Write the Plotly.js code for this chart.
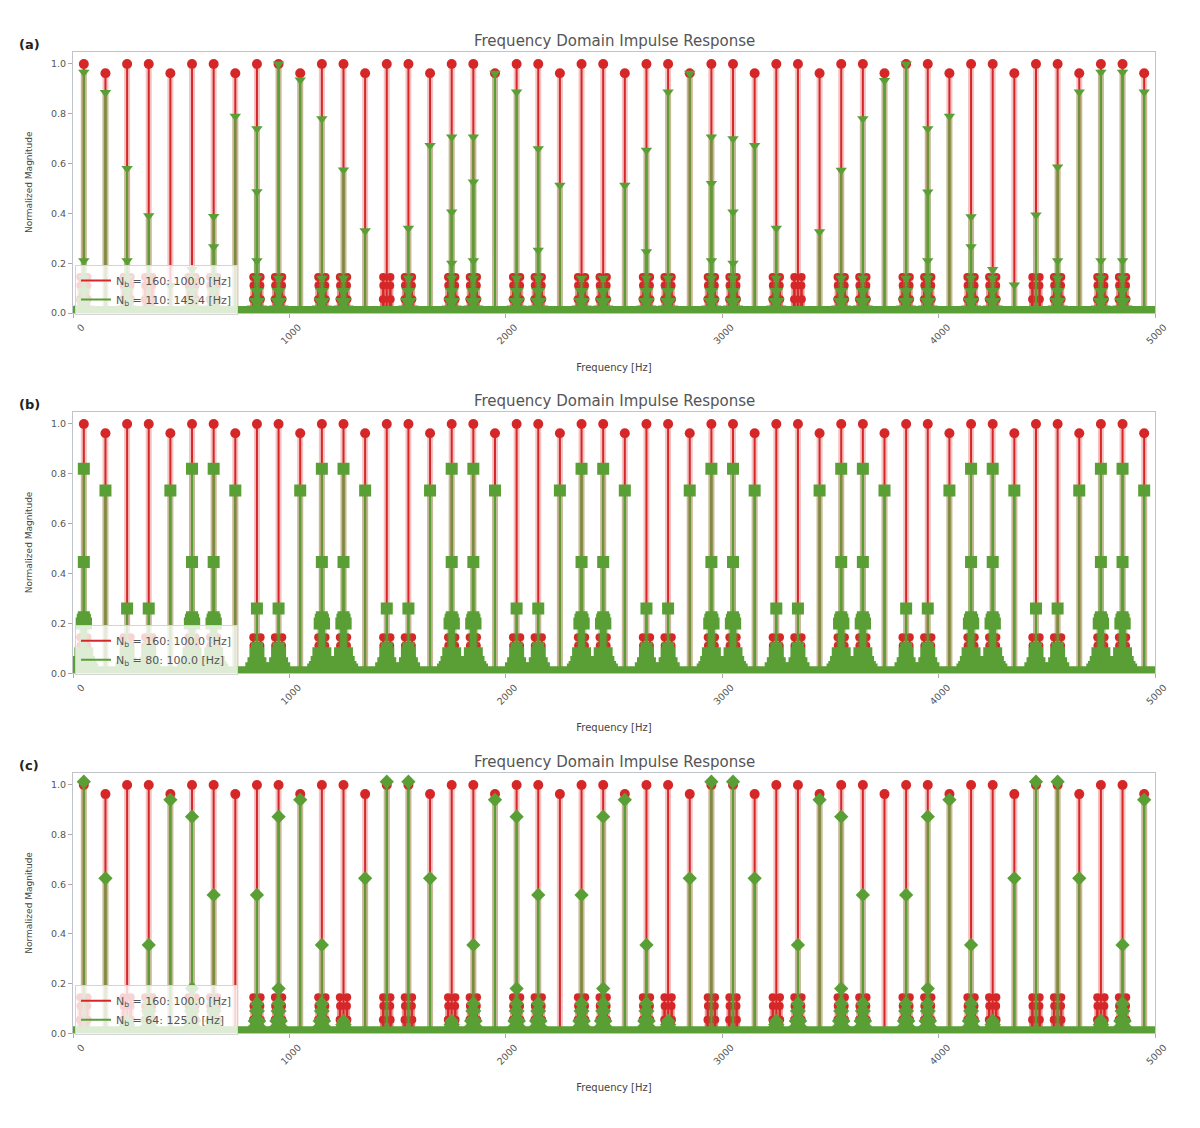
<!DOCTYPE html>
<html><head><meta charset="utf-8">
<script src="https://cdn.plot.ly/plotly-3.0.1.min.js"></script>
<style>body{margin:0;background:#fff}</style>
</head><body><div id="chart" style="width:1200px;height:1128px"></div>
<script>
// ---------------- data ----------------
const peakFreqs = [50,150,250,350,450,550,650,750,850,950,1050,1150,1250,1350,1450,1550,1650,1750,1850,1950,2050,2150,2250,2350,2450,2550,2650,2750,2850,2950,3050,3150,3250,3350,3450,3550,3650,3750,3850,3950,4050,4150,4250,4350,4450,4550,4650,4750,4850,4950];
const redPeaks = [1,0.963,1,1,0.963,1,1,0.963,1,1,0.963,1,1,0.963,1,1,0.963,1,1,0.963,1,1,0.963,1,1,0.963,1,1,0.963,1,1,0.963,1,1,0.963,1,1,0.963,1,1,0.963,1,1,0.963,1,1,0.963,1,1,0.963];
const redSideOffsets = [-18,-17,-16,16,17,18];
const redSideValues = [0.055,0.145,0.11,0.11,0.145,0.055];

// (a) N_b = 110
const greenAFreqs = [50,50,150,250,250,350,450,550,650,650,750,850,850,850,950,1050,1150,1250,1350,1550,1650,1750,1750,1750,1850,1850,1850,1950,2050,2150,2150,2250,2550,2650,2650,2750,2850,2950,2950,2950,3050,3050,3050,3150,3250,3450,3550,3650,3750,3850,3950,3950,3950,4050,4150,4150,4250,4350,4450,4550,4550,4650,4750,4750,4850,4850,4950];
const greenAValues = [0.967,0.21,0.885,0.58,0.21,0.39,0.11,0.175,0.387,0.266,0.79,0.74,0.487,0.21,1.0,0.936,0.78,0.574,0.33,0.34,0.673,0.707,0.406,0.2,0.707,0.526,0.21,0.963,0.887,0.66,0.252,0.513,0.513,0.653,0.246,0.887,0.963,0.707,0.52,0.21,0.70,0.406,0.2,0.673,0.34,0.326,0.573,0.78,0.934,1.0,0.74,0.486,0.21,0.79,0.386,0.266,0.175,0.112,0.393,0.586,0.21,0.887,0.967,0.21,0.967,0.21,0.887];
const humpACenters = [50,250,550,650,850,950,1150,1250,1550,1750,1850,2050,2150,2350,2450,2650,2750,2950,3050,3250,3550,3650,3850,3950,4150,4250,4550,4750,4850];
const humpAOffsets = [-20,-12,-6,0,6,12,20];
const humpAValues = [0.02,0.05,0.09,0.14,0.09,0.05,0.02];

// (b) N_b = 80
const greenBFreqs = [50,50,50,150,250,350,450,550,550,550,650,650,650,750,850,950,1050,1150,1150,1150,1250,1250,1250,1350,1450,1550,1650,1750,1750,1750,1850,1850,1850,1950,2050,2150,2250,2350,2350,2350,2450,2450,2450,2550,2650,2750,2850,2950,2950,2950,3050,3050,3050,3150,3250,3350,3450,3550,3550,3550,3650,3650,3650,3750,3850,3950,4050,4150,4150,4150,4250,4250,4250,4350,4450,4550,4650,4750,4750,4750,4850,4850,4850,4950];
const greenBValues = [0.82,0.446,0.216,0.733,0.26,0.26,0.733,0.82,0.446,0.216,0.82,0.446,0.216,0.733,0.26,0.26,0.733,0.82,0.446,0.216,0.82,0.446,0.216,0.733,0.26,0.26,0.733,0.82,0.446,0.216,0.82,0.446,0.216,0.733,0.26,0.26,0.733,0.82,0.446,0.216,0.82,0.446,0.216,0.733,0.26,0.26,0.733,0.82,0.446,0.216,0.82,0.446,0.216,0.733,0.26,0.26,0.733,0.82,0.446,0.216,0.82,0.446,0.216,0.733,0.26,0.26,0.733,0.82,0.446,0.216,0.82,0.446,0.216,0.733,0.26,0.26,0.733,0.82,0.446,0.216,0.82,0.446,0.216,0.733];
const humpBBigCenters = [50,550,650,1150,1250,1750,1850,2350,2450,2950,3050,3550,3650,4150,4250,4750,4850];
const humpBBigOffsets = [-40,-32,-24,-16,-10,-5,0,5,10,16,24,32,40];
const humpBBigValues = [0.015,0.025,0.045,0.08,0.2,0.215,0.225,0.215,0.2,0.08,0.045,0.025,0.015];
const humpBSmallCenters = [250,350,850,950,1450,1550,2050,2150,2650,2750,3250,3350,3850,3950,4450,4550];
const humpBSmallOffsets = [-26,-16,-7,0,7,16,26];
const humpBSmallValues = [0.02,0.04,0.08,0.1,0.08,0.04,0.02];

// (c) N_b = 64
const greenCFreqs = [50,150,350,450,550,550,650,850,950,950,1050,1150,1350,1450,1550,1650,1850,1950,2050,2050,2150,2350,2450,2450,2550,2650,2850,2950,3050,3150,3350,3450,3550,3550,3650,3850,3950,3950,4050,4150,4350,4450,4550,4650,4850,4950];
const greenCValues = [1.013,0.624,0.356,0.94,0.872,0.18,0.557,0.557,0.872,0.18,0.94,0.356,0.624,1.013,1.013,0.624,0.356,0.94,0.872,0.18,0.557,0.557,0.872,0.18,0.94,0.356,0.624,1.013,1.013,0.624,0.356,0.94,0.872,0.18,0.557,0.557,0.872,0.18,0.94,0.356,0.624,1.013,1.013,0.624,0.356,0.94];
const humpCCenters = [350,550,650,850,950,1150,1850,2050,2150,2350,2450,2650,3350,3550,3650,3850,3950,4150,4850];
const humpCOffsets = [-18,-10,-4,0,4,10,18];
const humpCValues = [0.02,0.05,0.09,0.12,0.09,0.05,0.02];
const humpCSmallCenters = [250,1250,1750,2750,3250,4250,4750];
const humpCSmallOffsets = [-12,-5,0,5,12];
const humpCSmallValues = [0.02,0.035,0.05,0.035,0.02];

const legendRed = 'N<sub>b</sub> = 160: 100.0 [Hz]';
const legendGreen = ['N<sub>b</sub> = 110: 145.4 [Hz]','N<sub>b</sub> = 80: 100.0 [Hz]','N<sub>b</sub> = 64: 125.0 [Hz]'];
const panelLabels = ['(a)','(b)','(c)'];
const titleText = 'Frequency Domain Impulse Response';
const xTicks = [0,1000,2000,3000,4000,5000];
const yTicks = [0,0.2,0.4,0.6,0.8,1.0];
const floorLevel = 0.014;

// ---------------- helpers ----------------
const RED = '#d62728', GREEN = '#5a9f35';
function expand(centers, offs, vals){
  const X=[],Y=[];
  centers.forEach(c=>offs.forEach((o,j)=>{X.push(c+o);Y.push(vals[j]);}));
  return {X,Y};
}
function stemXY(xs, ys){
  const X=[],Y=[];
  xs.forEach((x,i)=>{X.push(x,x,null);Y.push(0,ys[i],null);});
  return {X,Y};
}
const redCenters = peakFreqs.filter((f,i)=>redPeaks[i]===1);
const redSide = expand(redCenters, redSideOffsets, redSideValues);

const traces = [];
function addPanel(idx, gx, gy, symbol, msize, legendName){
  const xa = idx===0?'x':'x'+(idx+1), ya = idx===0?'y':'y'+(idx+1);
  const leg = idx===0?'legend':'legend'+(idx+1);
  const rs = stemXY(peakFreqs.concat(redSide.X), redPeaks.concat(redSide.Y));
  traces.push({x:rs.X,y:rs.Y,xaxis:xa,yaxis:ya,mode:'lines',line:{color:'rgba(214,39,40,0.28)',width:6},hoverinfo:'skip',showlegend:false});
  traces.push({x:rs.X,y:rs.Y,xaxis:xa,yaxis:ya,mode:'lines',line:{color:RED,width:2},name:legendRed,legend:leg,showlegend:true});
  traces.push({x:peakFreqs,y:redPeaks,xaxis:xa,yaxis:ya,mode:'markers',marker:{symbol:'circle',size:10,color:RED},showlegend:false});
  traces.push({x:redSide.X,y:redSide.Y,xaxis:xa,yaxis:ya,mode:'markers',marker:{symbol:'circle',size:8,color:RED},showlegend:false});
  const gs = stemXY(gx, gy);
  traces.push({x:gs.X,y:gs.Y,xaxis:xa,yaxis:ya,mode:'lines',line:{color:'rgba(90,159,53,0.3)',width:6},hoverinfo:'skip',showlegend:false});
  traces.push({x:gs.X,y:gs.Y,xaxis:xa,yaxis:ya,mode:'lines',line:{color:GREEN,width:2},name:legendName,legend:leg,showlegend:true});
  traces.push({x:gx,y:gy,xaxis:xa,yaxis:ya,mode:'markers',marker:{symbol:symbol,size:msize,color:GREEN},showlegend:false});
  traces.push({x:[0,5000],y:[floorLevel,floorLevel],xaxis:xa,yaxis:ya,mode:'lines',line:{color:GREEN,width:7},showlegend:false,hoverinfo:'skip'});
}
const hA = expand(humpACenters, humpAOffsets, humpAValues);
addPanel(0, greenAFreqs.concat(hA.X), greenAValues.concat(hA.Y), 'triangle-down', 10, legendGreen[0]);
const hBb = expand(humpBBigCenters, humpBBigOffsets, humpBBigValues);
const hBs = expand(humpBSmallCenters, humpBSmallOffsets, humpBSmallValues);
addPanel(1, greenBFreqs.concat(hBb.X, hBs.X), greenBValues.concat(hBb.Y, hBs.Y), 'square', 12, legendGreen[1]);
const hC = expand(humpCCenters, humpCOffsets, humpCValues);
const hCs = expand(humpCSmallCenters, humpCSmallOffsets, humpCSmallValues);
addPanel(2, greenCFreqs.concat(hC.X, hCs.X), greenCValues.concat(hC.Y, hCs.Y), 'diamond', 11, legendGreen[2]);

// ---------------- layout ----------------
const W=1200,H=1128;
const xDom=[73/W,1155/W];
const yTops=[51.5,411.5,772.5], yBots=[313,673.3,1033.3];
const axisFont={family:'DejaVu Sans',size:9.5,color:'#555'};
const layout={width:W,height:H,margin:{l:0,r:0,t:0,b:0},paper_bgcolor:'#fff',plot_bgcolor:'#fff',
  font:{family:'DejaVu Sans',color:'#444'},annotations:[]};
for(let i=0;i<3;i++){
  const s=i===0?'':String(i+1);
  layout['xaxis'+s]={domain:xDom,range:[0,5000],anchor:'y'+s,tickmode:'array',tickvals:xTicks,ticktext:xTicks.map(String),
    tickangle:-45,ticks:'outside',ticklen:4,tickcolor:'#aaa',linecolor:'#bfc4cc',linewidth:1,mirror:true,showgrid:false,zeroline:false,
    tickfont:axisFont,ticklabelshift:9,title:{text:'Frequency [Hz]',font:{family:'DejaVu Sans',size:10,color:'#444'},standoff:18}};
  layout['yaxis'+s]={domain:[1-yBots[i]/H,1-yTops[i]/H],range:[0,1.05],anchor:'x'+s,tickmode:'array',tickvals:yTicks,tickformat:'.1f',
    ticks:'outside',ticklen:4,tickcolor:'#aaa',linecolor:'#bfc4cc',linewidth:1,mirror:true,showgrid:false,zeroline:false,
    tickfont:axisFont,title:{text:'Normalized Magnitude',font:{family:'DejaVu Sans',size:9,color:'#444'},standoff:16}};
  layout[i===0?'legend':'legend'+(i+1)]={x:75/W,y:1-(yBots[i]-48)/H,xanchor:'left',yanchor:'top',bgcolor:'rgba(255,255,255,0.8)',
    bordercolor:'#d4d4d4',borderwidth:1,font:{family:'DejaVu Sans',size:11,color:'#555'},tracegroupgap:0};
  layout.annotations.push({text:titleText,xref:'paper',yref:'paper',x:(xDom[0]+xDom[1])/2,y:1-(yTops[i]-11)/H,xanchor:'center',yanchor:'middle',
    showarrow:false,font:{family:'DejaVu Sans',size:15,color:'#555'}});
  layout.annotations.push({text:panelLabels[i],xref:'paper',yref:'paper',x:17/W,y:1-(yTops[i]-7)/H,xanchor:'left',yanchor:'middle',
    showarrow:false,font:{family:'DejaVu Sans',size:13,color:'#222',weight:'bold'}});
}
Plotly.newPlot('chart',traces,layout,{staticPlot:true,displayModeBar:false});
</script></body></html>
